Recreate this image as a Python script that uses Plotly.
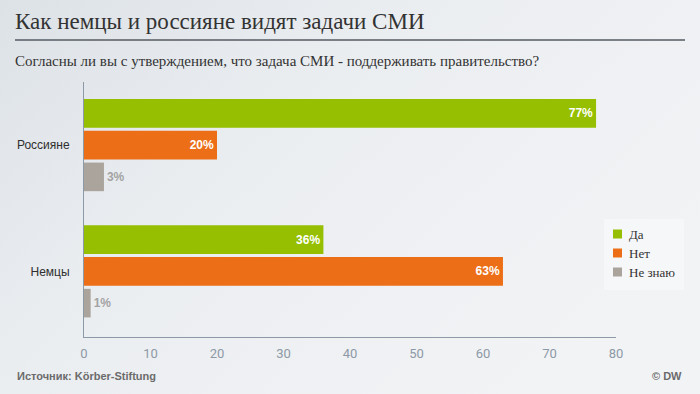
import base64
import plotly.graph_objects as go

categories = ["Немцы", "Россияне"]
series_names = ["Да", "Нет", "Не знаю"]
yes_vals = [36, 77]
no_vals = [63, 20]
dk_vals = [1, 3]
x_ticks = [0, 10, 20, 30, 40, 50, 60, 70, 80]

colors = {"Да": "#95bf00", "Нет": "#ec6e17", "Не знаю": "#aaa49c"}
values = {"Да": yes_vals, "Нет": no_vals, "Не знаю": dk_vals}

L, R, T, B = 84, 84, 82, 57
PW, PH = 700 - L - R, 394 - T - B


def px(x):
    return (x - L) / PW


def py(y):
    return 1 - (y - T) / PH


svg = ('<svg xmlns="http://www.w3.org/2000/svg" width="700" height="394">'
       '<defs><linearGradient id="g" x1="0" y1="0" x2="1" y2="0.6">'
       '<stop offset="0" stop-color="#dde2e7"/><stop offset="0.45" stop-color="#ebeef1"/>'
       '<stop offset="1" stop-color="#f2f3f5"/></linearGradient></defs>'
       '<rect width="700" height="394" fill="url(#g)"/></svg>')
bg_src = "data:image/svg+xml;base64," + base64.b64encode(svg.encode()).decode()

fig = go.Figure()
for name in ["Не знаю", "Нет", "Да"]:
    vals = values[name]
    fig.add_trace(go.Bar(
        y=categories, x=vals, name=name, orientation="h",
        marker=dict(color=colors[name], line=dict(width=0)),
        texttemplate="%{x}%",
        textposition=["inside" if v >= 10 else "outside" for v in vals],
        insidetextanchor="end",
        insidetextfont=dict(color="white", size=12, family="Liberation Sans, Arial", weight="bold"),
        outsidetextfont=dict(color="#a3a3a3", size=12, family="Liberation Sans, Arial", weight="bold"),
        cliponaxis=False,
        hoverinfo="skip",
        showlegend=False,
    ))

fig.update_layout(
    width=700, height=394,
    barmode="group", bargap=0.245, bargroupgap=0.1,
    paper_bgcolor="#eceef1", plot_bgcolor="rgba(0,0,0,0)",
    margin=dict(l=L, r=R, t=T, b=B, autoexpand=False),
    showlegend=False,
    images=[dict(source=bg_src, xref="paper", yref="paper", x=px(0), y=py(0),
                 sizex=700 / PW, sizey=394 / PH, xanchor="left", yanchor="top",
                 sizing="stretch", layer="below")],
    xaxis=dict(
        range=[0, 80], tickvals=x_ticks, showgrid=False, zeroline=False,
        showline=True, linecolor="#8d99a6", linewidth=1,
        tickfont=dict(family="Liberation Sans Narrow, Arial Narrow, Roboto, sans-serif", size=13, color="#8d99a6"),
        ticks="", ticklabelstandoff=4,
    ),
    yaxis=dict(
        categoryorder="array", categoryarray=categories,
        range=[-0.52, 1.5], showgrid=False, zeroline=False,
        showline=True, linecolor="#8d99a6", linewidth=1,
        tickfont=dict(family="Liberation Sans, Arial, sans-serif", size=12, color="#2e2e2e"),
        ticks="", ticklabelstandoff=11,
    ),
    font=dict(family="Liberation Sans, Arial, sans-serif"),
)

# legend box (drawn manually to match compact style)
fig.add_shape(type="rect", xref="paper", yref="paper",
              x0=px(604), x1=px(684), y0=py(290), y1=py(219),
              fillcolor="#f6f7f9", line=dict(width=0), layer="below")
for i, name in enumerate(series_names):
    yc = 234 + i * 19
    fig.add_shape(type="rect", xref="paper", yref="paper",
                  x0=px(613), x1=px(622), y0=py(yc + 4.5), y1=py(yc - 4.5),
                  fillcolor=colors[name], line=dict(width=0))
    fig.add_annotation(text=name, xref="paper", yref="paper",
                       x=px(627), y=py(yc), xanchor="left", yanchor="middle", showarrow=False,
                       font=dict(family="Liberation Serif, Times New Roman, serif", size=13, color="#333333"))

fig.add_annotation(text="Как немцы и россияне видят задачи СМИ", xref="paper", yref="paper",
                   x=px(13), y=py(22), xanchor="left", yanchor="middle",
                   showarrow=False,
                   font=dict(family="Liberation Serif, Times New Roman, serif", size=23, color="#333333"))
fig.add_shape(type="line", xref="paper", yref="paper",
              x0=px(15), x1=px(685), y0=py(40), y1=py(40),
              line=dict(color="#555b62", width=1.5))
fig.add_annotation(text="Согласны ли вы с утверждением, что задача СМИ - поддерживать правительство?",
                   xref="paper", yref="paper",
                   x=px(13), y=py(61), xanchor="left", yanchor="middle",
                   showarrow=False,
                   font=dict(family="Liberation Serif, Times New Roman, serif", size=15, color="#333333"))
fig.add_annotation(text="Источник: Körber-Stiftung", xref="paper", yref="paper",
                   x=px(15), y=py(376), xanchor="left", yanchor="middle",
                   showarrow=False,
                   font=dict(family="Liberation Sans Narrow, Arial Narrow, Liberation Sans, sans-serif",
                             size=11, color="#6b6b6b", weight="bold"))
fig.add_annotation(text="© DW", xref="paper", yref="paper",
                   x=px(684), y=py(376), xanchor="right", yanchor="middle",
                   showarrow=False,
                   font=dict(family="Liberation Sans Narrow, Arial Narrow, Liberation Sans, sans-serif",
                             size=11, color="#6b6b6b", weight="bold"))

fig.write_html("out.html", config={"displayModeBar": False},
               post_script="document.body.style.margin='0';document.body.style.padding='0';")
